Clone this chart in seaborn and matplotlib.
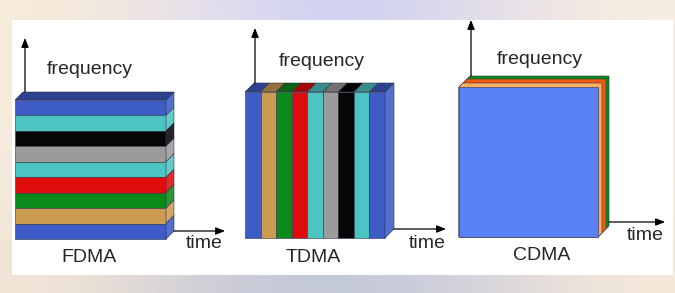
import numpy as np
import matplotlib
matplotlib.use("Agg")
import matplotlib.pyplot as plt
from matplotlib.patches import Polygon, Rectangle
import matplotlib.colors as mcolors
import seaborn as sns

sns.set_style("white")
plt.rcParams['font.family'] = ['Liberation Sans', 'DejaVu Sans']

# ---- data ----
titles = ["FDMA", "TDMA", "CDMA"]
axis_y_label = "frequency"
axis_x_label = "time"
fdma_channels = ["blue", "cyan", "black", "gray", "cyan", "red", "green", "tan", "blue"]   # top -> bottom
tdma_channels = ["blue", "tan", "green", "red", "cyan", "gray", "black", "cyan", "blue"]   # left -> right
cdma_layers = ["green", "redorange", "lightorange", "cdmablue"]                            # back -> front

palette = {
    "blue": "#3d5cc6", "cyan": "#4cc4c2", "black": "#060606", "gray": "#9b9b9b",
    "red": "#e00c0c", "green": "#0b8a1c", "tan": "#cc9b52",
    "redorange": "#f05a10", "lightorange": "#f8b060", "cdmablue": "#5882f6",
}
pal = dict(zip(palette.keys(), sns.color_palette(list(palette.values()))))


def shade(c, f):
    r, g, b = mcolors.to_rgb(c)
    if f < 1:
        return (r * f, g * f, b * f)
    return (r + (1 - r) * (f - 1), g + (1 - g) * (f - 1), b + (1 - b) * (f - 1))


fig = plt.figure(figsize=(6.75, 2.93), dpi=100)
ax = fig.add_axes([0, 0, 1, 1])
ax.set_xlim(0, 675)
ax.set_ylim(293, 0)
ax.axis("off")

# background (blurred slide image look)
bg = np.array([
    [[0.97, 0.92, 0.85], [0.90, 0.88, 0.93], [0.78, 0.80, 0.95], [0.88, 0.86, 0.92], [0.97, 0.93, 0.88]],
    [[0.96, 0.93, 0.88], [0.93, 0.92, 0.94], [0.90, 0.90, 0.95], [0.94, 0.92, 0.93], [0.97, 0.94, 0.90]],
    [[0.95, 0.90, 0.84], [0.80, 0.80, 0.84], [0.74, 0.77, 0.84], [0.82, 0.82, 0.86], [0.96, 0.91, 0.85]],
])
ax.imshow(bg, extent=(0, 675, 293, 0), aspect="auto", interpolation="bicubic", zorder=0)
ax.add_patch(Rectangle((12, 20), 661, 255, facecolor="white", edgecolor="none", zorder=1))

edge = dict(edgecolor="#30304a", linewidth=0.4, zorder=3)
txt = dict(color="#262626", fontsize=14, ha="center", va="center", zorder=5)


def arrow(x0, y0, x1, y1):
    ax.annotate("", xy=(x1, y1), xytext=(x0, y0),
                arrowprops=dict(arrowstyle="-|>,head_length=0.55,head_width=0.22",
                                color="black", lw=0.9, shrinkA=0, shrinkB=0), zorder=4)


# ---- FDMA ----
x0, x1, y0, y1, d = 15, 166, 100, 239, 8
n = len(fdma_channels)
h = (y1 - y0) / n
for i, name in enumerate(fdma_channels):
    c = pal[name]
    ya, yb = y0 + i * h, y0 + (i + 1) * h
    ax.add_patch(Rectangle((x0, ya), x1 - x0, h, facecolor=c, **edge))
    ax.add_patch(Polygon([(x1, ya), (x1 + d, ya - d), (x1 + d, yb - d), (x1, yb)],
                         closed=True, facecolor=shade(c, 1.12), **edge))
ax.add_patch(Polygon([(x0, y0), (x0 + d, y0 - d), (x1 + d, y0 - d), (x1, y0)],
                     closed=True, facecolor=shade(pal[fdma_channels[0]], 0.72), **edge))
arrow(x0 + 10, y0 - d, x0 + 10, 38)
arrow(x1 + d, 231, 225, 231)
ax.text(90, 70, axis_y_label, **txt)
ax.text(204, 243, axis_x_label, **txt)
ax.text(89, 258, titles[0], **txt)

# ---- TDMA ----
x0, x1, y0, y1, d = 245, 385, 92, 238, 9
n = len(tdma_channels)
w = (x1 - x0) / n
for i, name in enumerate(tdma_channels):
    c = pal[name]
    xa, xb = x0 + i * w, x0 + (i + 1) * w
    ax.add_patch(Rectangle((xa, y0), w, y1 - y0, facecolor=c, **edge))
    ax.add_patch(Polygon([(xa, y0), (xa + d, y0 - d), (xb + d, y0 - d), (xb, y0)],
                         closed=True, facecolor=shade(c, 0.72), **edge))
ax.add_patch(Polygon([(x1, y0), (x1 + d, y0 - d), (x1 + d, y1 - d), (x1, y1)],
                     closed=True, facecolor=shade(pal[tdma_channels[-1]], 1.12), **edge))
arrow(x0 + 10, y0 - d, x0 + 10, 28)
arrow(x1 + d, 229, 446, 229)
ax.text(322, 62, axis_y_label, **txt)
ax.text(427, 244, axis_x_label, **txt)
ax.text(313, 258, titles[1], **txt)

# ---- CDMA ----
x0, x1, y0, y1 = 459, 598, 87, 237
depths = [11, 8, 4, 0]
for name, dd in zip(cdma_layers, depths):
    c = pal[name]
    if dd == 0:
        ax.add_patch(Rectangle((x0, y0), x1 - x0, y1 - y0, facecolor=c, **edge))
    else:
        ax.add_patch(Polygon([(x0, y0), (x0 + dd, y0 - dd), (x1 + dd, y0 - dd),
                              (x1 + dd, y1 - dd), (x1, y1), (x0, y1)],
                             closed=True, facecolor=c, **edge))
arrow(x0 + 12, y0 - 11, x0 + 12, 20)
arrow(x1 + 11, 222, 665, 222)
ax.text(540, 59, axis_y_label, **txt)
ax.text(645, 235, axis_x_label, **txt)
ax.text(542, 256, titles[2], **txt)

fig.savefig("out.png", dpi=100)
